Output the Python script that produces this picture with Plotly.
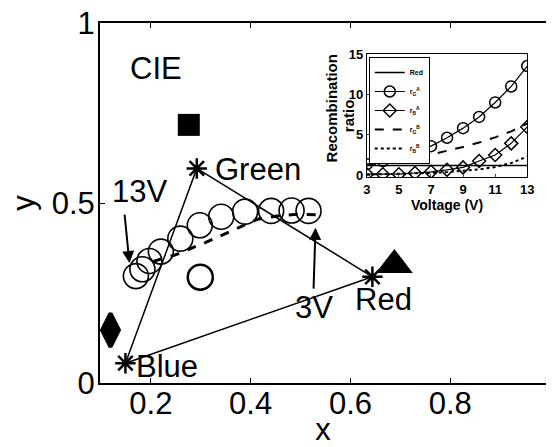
import plotly.graph_objects as go

# ---------------- main CIE plot data ----------------
prim_names = ["Blue", "Green", "Red"]
prim_x = [0.149, 0.292, 0.644]
prim_y = [0.055, 0.596, 0.295]

# circles, 13 V (first) to 3 V (last)
cie_x = [0.170, 0.183, 0.197, 0.220, 0.259, 0.298, 0.341, 0.389, 0.441, 0.482, 0.516]
cie_y = [0.297, 0.316, 0.339, 0.365, 0.401, 0.438, 0.462, 0.476, 0.478, 0.479, 0.478]

# dashed curve
dash_x = [0.205, 0.249, 0.309, 0.368, 0.414, 0.453, 0.493, 0.532]
dash_y = [0.338, 0.356, 0.390, 0.427, 0.455, 0.464, 0.469, 0.467]

square_xy = (0.276, 0.717)
triangle_xy = (0.688, 0.328)
diamond_xy = (0.119, 0.147)
open_circle_xy = (0.299, 0.294)

# ---------------- inset data ----------------
voltage = [3, 4, 5, 6, 7, 8, 9, 10, 11, 12, 13]
red_ratio = [1.2, 1.2, 1.2, 1.2, 1.2, 1.2, 1.2, 1.2, 1.2, 1.2, 1.2]
rgA = [1.35, 1.75, 2.2, 2.8, 3.6, 4.65, 5.85, 7.25, 9.05, 11.05, 13.6]
rbA = [0.1, 0.1, 0.1, 0.25, 0.4, 0.65, 0.95, 1.75, 2.5, 3.95, 6.0]
rgB = [1.2, 1.5, 1.8, 2.15, 2.55, 3.0, 3.5, 4.05, 4.7, 5.45, 6.4]
rbB = [0.05, 0.08, 0.12, 0.18, 0.26, 0.36, 0.5, 0.7, 1.0, 1.5, 2.3]

FONT = "Liberation Sans, Arial, Helvetica, sans-serif"
BIG = 31

fig = go.Figure()

# triangle of primaries
fig.add_trace(go.Scatter(
    x=[prim_x[0], prim_x[1], prim_x[2], prim_x[0]],
    y=[prim_y[0], prim_y[1], prim_y[2], prim_y[0]],
    mode="lines", line=dict(color="black", width=1.5),
    showlegend=False, hoverinfo="skip"))
# dashed curve
fig.add_trace(go.Scatter(
    x=dash_x, y=dash_y, mode="lines",
    line=dict(color="black", width=3, dash="dash"),
    showlegend=False))
# circles
fig.add_trace(go.Scatter(
    x=cie_x, y=cie_y, mode="markers",
    marker=dict(symbol="circle-open", size=25, color="black", line=dict(width=1.6)),
    showlegend=False))
# stars
fig.add_trace(go.Scatter(
    x=prim_x, y=prim_y, mode="markers",
    marker=dict(symbol="asterisk-open", size=17, color="black", line=dict(width=2.5, color="black")),
    showlegend=False))
# filled square
fig.add_trace(go.Scatter(
    x=[square_xy[0]], y=[square_xy[1]], mode="markers",
    marker=dict(symbol="square", size=22, color="black"), showlegend=False))
# filled triangle
fig.add_trace(go.Scatter(
    x=[triangle_xy[0]], y=[triangle_xy[1]], mode="markers",
    marker=dict(symbol="triangle-up", size=32, color="black"), showlegend=False))
# filled diamond
fig.add_trace(go.Scatter(
    x=[diamond_xy[0]], y=[diamond_xy[1]], mode="markers",
    marker=dict(symbol="diamond-tall", size=24, color="black",
                line=dict(width=4, color="black")), showlegend=False))
# big open circle
fig.add_trace(go.Scatter(
    x=[open_circle_xy[0]], y=[open_circle_xy[1]], mode="markers",
    marker=dict(symbol="circle-open", size=25, color="black", line=dict(width=2.5)),
    showlegend=False))

# ---------------- inset traces ----------------
fig.add_trace(go.Scatter(
    x=voltage, y=red_ratio, mode="lines", name="Red",
    line=dict(color="black", width=1.5), xaxis="x2", yaxis="y2"))
fig.add_trace(go.Scatter(
    x=voltage, y=rgA, mode="lines+markers", name="r<sub>G</sub><sup>A</sup>",
    line=dict(color="black", width=1.2),
    marker=dict(symbol="circle-open", size=11, color="black", line=dict(width=1.5)),
    xaxis="x2", yaxis="y2"))
fig.add_trace(go.Scatter(
    x=voltage, y=rbA, mode="lines+markers", name="r<sub>B</sub><sup>A</sup>",
    line=dict(color="black", width=1.2),
    marker=dict(symbol="diamond-open", size=10, color="black", line=dict(width=1.5)),
    xaxis="x2", yaxis="y2"))
fig.add_trace(go.Scatter(
    x=voltage, y=rgB, mode="lines", name="r<sub>G</sub><sup>B</sup>",
    line=dict(color="black", width=2, dash="dash"), xaxis="x2", yaxis="y2"))
fig.add_trace(go.Scatter(
    x=voltage, y=rbB, mode="lines", name="r<sub>B</sub><sup>B</sup>",
    line=dict(color="black", width=2, dash="dot"), xaxis="x2", yaxis="y2"))

ann = []
def txt(t, x, y, xa="center", size=BIG):
    ann.append(dict(text=t, x=x, y=y, xref="x", yref="y", showarrow=False,
                    xanchor=xa, yanchor="middle", font=dict(size=size, color="black", family=FONT)))

txt("CIE", 0.211, 0.875)
txt("Green", 0.325, 0.594, xa="left")
txt("Blue", 0.166, 0.047, xa="left")
txt("Red", 0.667, 0.231)
txt("3V", 0.526, 0.211)
txt("13V", 0.177, 0.531)

def arrow(x0, y0, x1, y1):
    ann.append(dict(text="", x=x1, y=y1, ax=x0, ay=y0, xref="x", yref="y",
                    axref="x", ayref="y", showarrow=True, arrowhead=2,
                    arrowsize=1.2, arrowwidth=2, arrowcolor="black"))

arrow(0.147, 0.472, 0.157, 0.333)
arrow(0.526, 0.258, 0.530, 0.431)

# inset y-axis title (two rotated lines)
for t, px, py in [("<b>Recombination</b>", 0.519, 0.764), ("<b>ratio</b>", 0.556, 0.744)]:
    ann.append(dict(text=t, x=px, y=py, xref="paper", yref="paper", showarrow=False,
                    textangle=-90, xanchor="center", yanchor="middle",
                    font=dict(size=15, color="black", family=FONT)))

fig.update_layout(
    width=553, height=447,
    margin=dict(l=100, r=0, t=23, b=64),
    paper_bgcolor="white", plot_bgcolor="white",
    font=dict(family=FONT, color="black"),
    annotations=ann,
    xaxis=dict(range=[0.098, 0.992], tickvals=[0.2, 0.4, 0.6, 0.8],
               ticktext=["0.2", "0.4", "0.6", "0.8"],
               ticks="inside", ticklen=5, tickwidth=1, tickcolor="black",
               showline=True, linecolor="black", linewidth=2, mirror="ticks",
               showgrid=False, zeroline=False, ticklabelstandoff=-8,
               tickfont=dict(size=BIG, family=FONT),
               title=dict(text="x", font=dict(size=BIG, family=FONT), standoff=0)),
    yaxis=dict(range=[0, 1], tickvals=[0, 0.5, 1], ticktext=["0", "0.5", "1"],
               ticks="inside", ticklen=5, tickwidth=1, tickcolor="black",
               showline=True, linecolor="black", linewidth=2, mirror=False,
               showgrid=False, zeroline=False, ticklabelstandoff=-3,
               tickfont=dict(size=BIG, family=FONT),
               title=dict(text="y", font=dict(size=BIG, family=FONT), standoff=8)),
    xaxis2=dict(domain=[0.5982, 0.958], anchor="y2", range=[3, 13],
                tickvals=[3, 5, 7, 9, 11, 13], ticks="inside", ticklen=3,
                showline=True, linecolor="black", linewidth=1, mirror=True,
                showgrid=False, zeroline=False,
                tickfont=dict(size=13, family=FONT, weight="bold"),
                title=dict(text="<b>Voltage (V)</b>", font=dict(size=14, family=FONT), standoff=2)),
    yaxis2=dict(domain=[0.5722, 0.9139], anchor="x2", range=[-0.25, 15.1],
                tickvals=[0, 5, 10, 15], ticks="inside", ticklen=3,
                showline=True, linecolor="black", linewidth=1, mirror=True,
                showgrid=False, zeroline=False,
                tickfont=dict(size=13, family=FONT, weight="bold")),
    legend=dict(x=0.6026, y=0.9056, xanchor="left", yanchor="top",
                bgcolor="white", bordercolor="black", borderwidth=1,
                font=dict(size=7, family=FONT, weight="bold"),
                itemwidth=30, tracegroupgap=0),
)

fig.write_html("out.html", config={"displayModeBar": False},
               post_script="document.body.style.margin='0';document.body.style.overflow='hidden';")
